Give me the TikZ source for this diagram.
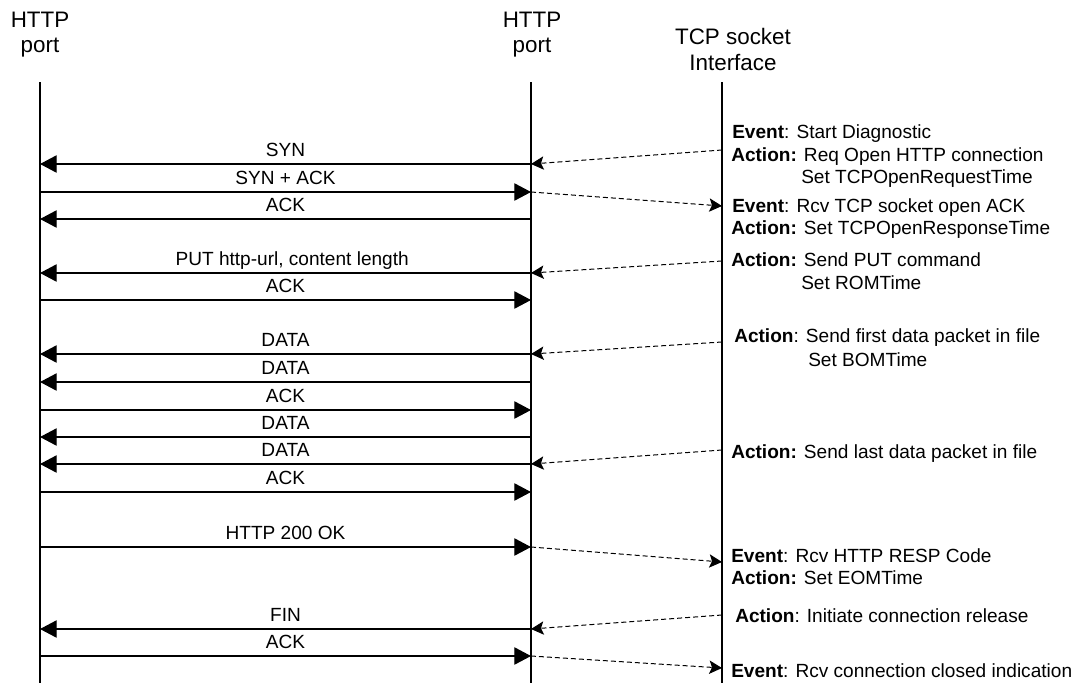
\documentclass[tikz,border=0pt]{standalone}
\usepackage{fontspec}
\setmainfont{Liberation Sans}
\usetikzlibrary{arrows.meta}

\begin{document}
\begin{tikzpicture}[x=0.75pt,y=-0.75pt,
    life/.style={line width=1.5pt},
    msg/.style={-{Triangle[length=12.5pt,width=13pt]},line width=0.9pt},
    ctl/.style={-{Stealth[length=9.5pt,width=10pt,inset=2pt]},line width=0.75pt,dash pattern=on 3.75pt off 2.25pt},
    lbl/.style={anchor=base,yshift=5.5pt,inner sep=0pt,font=\fontsize{14.3}{16}\selectfont},
    hdr/.style={anchor=north,align=center,inner sep=0pt,font=\fontsize{16.8}{18.8}\selectfont},
    note/.style={anchor=base west,inner sep=0pt,font=\fontsize{14.3}{16}\selectfont}]

\useasboundingbox (0,0) rectangle (1079,683);

% headers
\node[hdr] (hl) at (40,12) {HTTP\\port};
\node[hdr] (hm) at (532,12) {HTTP\\port};
\node[hdr,font=\fontsize{16.8}{19.5}\selectfont] (hr) at (733,28) {TCP socket\\Interface};

% life lines
\coordinate (lt) at (40,82);  \coordinate (lb) at (40,683);
\coordinate (mt) at (531,82); \coordinate (mb) at (531,683);
\coordinate (rt) at (722,82); \coordinate (rb) at (722,683);
\draw[life] (lt) -- (lb);
\draw[life] (mt) -- (mb);
\draw[life] (rt) -- (rb);

% message rows
\coordinate (l1) at (40,164);  \coordinate (m1) at (531,164);
\coordinate (l2) at (40,192);  \coordinate (m2) at (531,192);
\coordinate (l3) at (40,219);  \coordinate (m3) at (531,219);
\coordinate (l4) at (40,273);  \coordinate (m4) at (531,273);
\coordinate (l5) at (40,300);  \coordinate (m5) at (531,300);
\coordinate (l6) at (40,354);  \coordinate (m6) at (531,354);
\coordinate (l7) at (40,382);  \coordinate (m7) at (531,382);
\coordinate (l8) at (40,410);  \coordinate (m8) at (531,410);
\coordinate (l9) at (40,437);  \coordinate (m9) at (531,437);
\coordinate (l10) at (40,464); \coordinate (m10) at (531,464);
\coordinate (l11) at (40,492); \coordinate (m11) at (531,492);
\coordinate (l12) at (40,547); \coordinate (m12) at (531,547);
\coordinate (l13) at (40,629); \coordinate (m13) at (531,629);
\coordinate (l14) at (40,656); \coordinate (m14) at (531,656);

\draw[msg] (m1) -- (l1) node[lbl,midway] {SYN};
\draw[msg] (l2) -- (m2) node[lbl,midway] {SYN + ACK};
\draw[msg] (m3) -- (l3) node[lbl,midway] {ACK};
\draw[msg] (m4) -- (l4) node[lbl,midway,xshift=5pt] {PUT http-url, content length};
\draw[msg] (l5) -- (m5) node[lbl,midway] {ACK};
\draw[msg] (m6) -- (l6) node[lbl,midway] {DATA};
\draw[msg] (m7) -- (l7) node[lbl,midway] {DATA};
\draw[msg] (l8) -- (m8) node[lbl,midway] {ACK};
\draw[msg] (m9) -- (l9) node[lbl,midway] {DATA};
\draw[msg] (m10) -- (l10) node[lbl,midway] {DATA};
\draw[msg] (l11) -- (m11) node[lbl,midway] {ACK};
\draw[msg] (l12) -- (m12) node[lbl,midway] {HTTP 200 OK};
\draw[msg] (m13) -- (l13) node[lbl,midway] {FIN};
\draw[msg] (l14) -- (m14) node[lbl,midway] {ACK};

% socket interface side
\coordinate (r1) at (722,150);
\coordinate (r2) at (722,206);
\coordinate (r3) at (722,261);
\coordinate (r4) at (722,342);
\coordinate (r5) at (722,450);
\coordinate (r6) at (722,562);
\coordinate (r7) at (722,615);
\coordinate (r8) at (722,668);

\draw[ctl] (r1) -- (m1);
\draw[ctl] (m2) -- (r2);
\draw[ctl] (r3) -- (m4);
\draw[ctl] (r4) -- (m6);
\draw[ctl] (r5) -- (m10);
\draw[ctl] (m12) -- (r6);
\draw[ctl] (r7) -- (m13);
\draw[ctl] (m14) -- (r8);

\node[note] (n1) at (732,138) {\textbf{Event}: Start Diagnostic};
\node[note] (n2) at (731,161) {\textbf{Action:} Req Open HTTP connection};
\node[note] (n3) at (801,183) {Set TCPOpenRequestTime};
\node[note] (n4) at (732,212) {\textbf{Event}: Rcv TCP socket open ACK};
\node[note] (n5) at (731,234) {\textbf{Action:} Set TCPOpenResponseTime};
\node[note] (n6) at (731,266) {\textbf{Action:} Send PUT command};
\node[note] (n7) at (801,289) {Set ROMTime};
\node[note] (n8) at (734,342) {\textbf{Action}: Send first data packet in file};
\node[note] (n9) at (808,366) {Set BOMTime};
\node[note] (n10) at (731,458) {\textbf{Action:} Send last data packet in file};
\node[note] (n11) at (731,562) {\textbf{Event}: Rcv HTTP RESP Code};
\node[note] (n12) at (731,584) {\textbf{Action:} Set EOMTime};
\node[note] (n13) at (735,622) {\textbf{Action}: Initiate connection release};
\node[note] (n14) at (731,677) {\textbf{Event}: Rcv connection closed indication};

\end{tikzpicture}
\end{document}
